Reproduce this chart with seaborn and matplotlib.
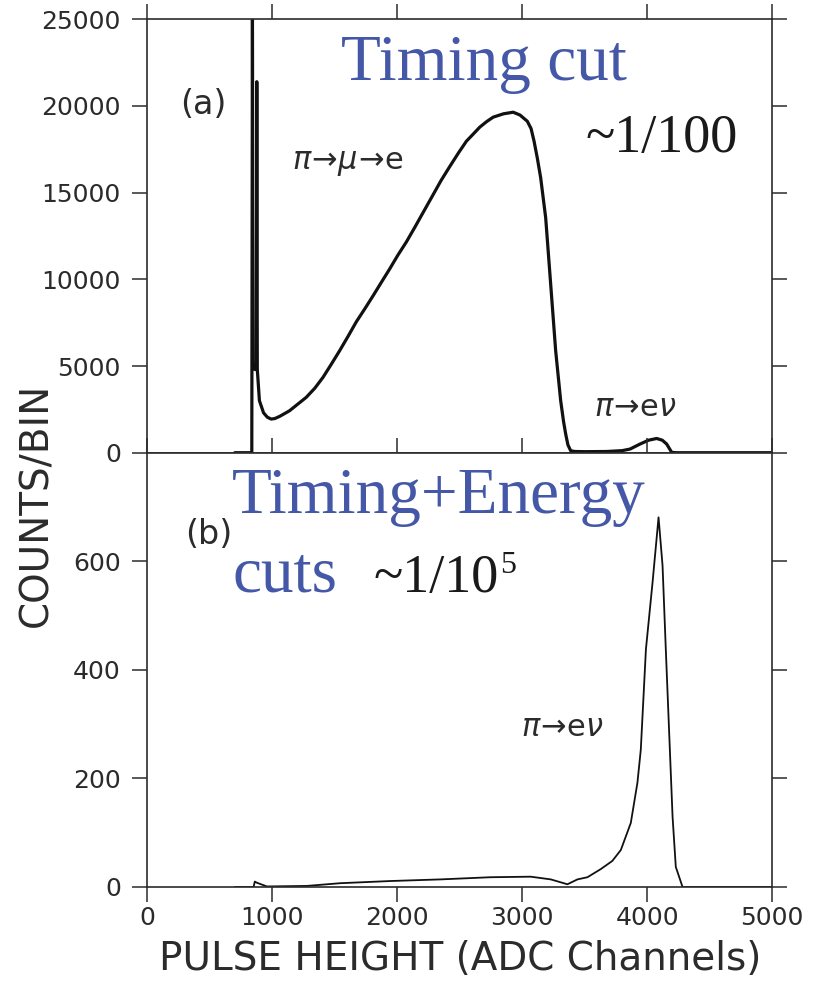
import matplotlib
matplotlib.use("Agg")
import matplotlib.pyplot as plt
import seaborn as sns
import pandas as pd

# ---------------- data ----------------
# Panel (a): Timing cut
ch_a = [700, 836, 841, 846, 860, 872, 876, 880, 897, 930, 960, 991, 1020, 1060,
        1138, 1200, 1271, 1340, 1405, 1470, 1538, 1605, 1672, 1740, 1806, 1870,
        1939, 2005, 2072, 2140, 2206, 2284, 2350, 2419, 2490, 2553, 2610, 2660,
        2715, 2767, 2850, 2927, 2981, 3040, 3070, 3094, 3120, 3147, 3187, 3227,
        3267, 3307, 3330, 3347, 3365, 3387, 3420, 3500, 3675, 3800, 3862, 3942,
        4010, 4075, 4120, 4155, 4180, 4195, 4230, 4600, 5000]
counts_a = [0, 0, 26000, 5200, 4800, 4800, 21400, 4800, 3000, 2300, 2050, 1940,
            1970, 2100, 2420, 2780, 3190, 3720, 4340, 5080, 5875, 6700, 7550,
            8300, 9050, 9800, 10600, 11400, 12150, 13000, 13850, 14850, 15700,
            16500, 17300, 17970, 18400, 18780, 19100, 19355, 19550, 19640, 19480,
            19120, 18700, 17970, 17000, 15860, 13555, 9720, 5875, 3000, 1800,
            1080, 450, 115, 70, 60, 70, 120, 210, 500, 720, 820, 720, 500, 200,
            20, 0, 0, 0]

# Panel (b): Timing + Energy cuts
ch_b = [700, 850, 860, 875, 957, 1277, 1544, 1945, 2346, 2746, 3067, 3228, 3361,
        3441, 3521, 3628, 3720, 3788, 3868, 3921, 3948, 3989, 4042, 4090, 4122,
        4148, 4175, 4202, 4228, 4282, 4600, 5000]
counts_b = [0, 0, 10, 8, 1, 2, 7, 11, 14, 18, 19, 14, 5, 14, 18, 33, 48, 68, 118,
            192, 253, 438, 561, 681, 592, 438, 284, 130, 37, 0, 0, 0]

xticks = [0, 1000, 2000, 3000, 4000, 5000]
yticks_a = [0, 5000, 10000, 15000, 20000, 25000]
yticks_b = [0, 200, 400, 600]

df_a = pd.DataFrame({"channel": ch_a, "counts": counts_a})
df_b = pd.DataFrame({"channel": ch_b, "counts": counts_b})

# ---------------- style ----------------
sns.set_theme(style="ticks")
plt.rcParams["font.family"] = ["DejaVu Sans"]

BLUE = "#4558a8"
SERIF = ["Liberation Serif", "DejaVu Serif"]
SPINE = "#2b2b2b"

fig = plt.figure(figsize=(8.19, 9.84), dpi=100)
L, R = 147.3 / 819, 772.3 / 819
ax_a = fig.add_axes([L, 1 - 452.7 / 984, R - L, (452.7 - 19.3) / 984])
ax_b = fig.add_axes([L, 1 - 887.0 / 984, R - L, (887.0 - 452.7) / 984])

sns.lineplot(data=df_a, x="channel", y="counts", ax=ax_a, color="#111111",
             linewidth=2.3, estimator=None, sort=False)
sns.lineplot(data=df_b, x="channel", y="counts", ax=ax_b, color="#111111",
             linewidth=1.3, estimator=None, sort=False)

for ax in (ax_a, ax_b):
    ax.set_xlim(0, 5000)
    ax.set_xticks(xticks)
    for s in ax.spines.values():
        s.set_visible(True)
        s.set_color(SPINE)
        s.set_linewidth(1.2)
    ax.tick_params(axis="both", direction="out", length=11, width=1.1,
                   color=SPINE, labelsize=18, labelcolor="#2b2b2b")
    ax.set_xlabel("")
    ax.set_ylabel("")

ax_a.set_ylim(0, 25000)
ax_a.set_yticks(yticks_a)
ax_a.tick_params(axis="x", top=True, bottom=False, labelbottom=False)
ax_a.tick_params(axis="y", left=True, right=True, pad=8)

ax_b.set_ylim(0, 800)
ax_b.set_yticks(yticks_b)
ax_b.tick_params(axis="x", top=True, bottom=True, pad=3)
ax_b.tick_params(axis="y", left=True, right=True, pad=8)

ax_b.set_xlabel("PULSE HEIGHT (ADC Channels)", fontsize=28, color="#2b2b2b",
                labelpad=7)
fig.text(0.045, 1 - 505 / 984, "COUNTS/BIN", rotation=90, fontsize=28,
         color="#2b2b2b", ha="center", va="center")

# ---------------- annotations ----------------
ax_a.text(1546, 21490, "Timing cut", color=BLUE, fontsize=47, family=SERIF,
          va="baseline", ha="left")
ax_a.text(3507, 17340, "~1/100", color="#1a1a1a", fontsize=39, family=SERIF,
          va="baseline", ha="left")
ax_a.text(262, 20110, "(a)", fontsize=24, color="#2b2b2b", va="center", ha="left")
ax_a.text(1160, 16700, r"$\pi\!\rightarrow\!\mu\!\rightarrow\!\mathrm{e}$",
          fontsize=22, color="#2b2b2b", va="center", ha="left")
ax_a.text(3571, 2580, r"$\pi\!\rightarrow\!\mathrm{e}\nu$",
          fontsize=22, color="#2b2b2b", va="center", ha="left")

ax_b.text(300, 650, "(b)", fontsize=24, color="#2b2b2b", va="center", ha="left")
ax_b.text(679, 689, "Timing+Energy", color=BLUE, fontsize=47, family=SERIF,
          va="baseline", ha="left")
ax_b.text(679, 545, "cuts", color=BLUE, fontsize=47, family=SERIF,
          va="baseline", ha="left")
t = ax_b.text(1809, 543, "~1/10", color="#1a1a1a", fontsize=39, family=SERIF,
              va="baseline", ha="left")
ax_b.annotate("5", xy=(1.0, 1.0), xycoords=t, color="#1a1a1a", fontsize=23,
              family=SERIF, va="top", ha="left", xytext=(1, 2),
              textcoords="offset points")
ax_b.text(2986, 293, r"$\pi\!\rightarrow\!\mathrm{e}\nu$",
          fontsize=22, color="#2b2b2b", va="center", ha="left")

fig.savefig("out.png", dpi=100)
